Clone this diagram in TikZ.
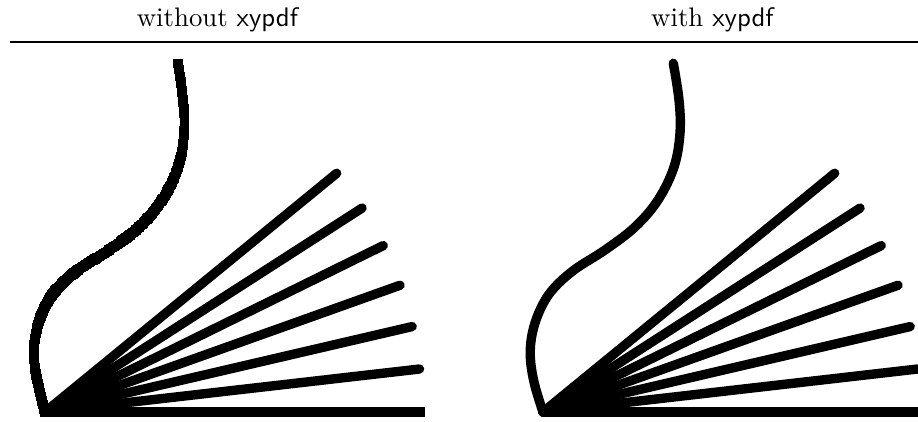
\documentclass[tikz,border=0pt]{standalone}
\begin{document}
\begin{tikzpicture}[x=0.3731pt,y=0.3731pt,
  fanline/.style={line width=3.5pt, line cap=round},
  groundline/.style={line width=3.5pt, line cap=butt},
  smoothcurve/.style={line width=3.5pt, line cap=round, line join=round},
  header/.style={inner sep=0pt, anchor=base}]
\useasboundingbox (0,0) rectangle (918,421);
\clip (0,0) rectangle (918,421);
% header
\node[header] (hl) at (218,395) {without \textsf{xypdf}};
\node[header] (hr) at (713,395) {with \textsf{xypdf}};
\coordinate (rulea) at (10,379);
\coordinate (ruleb) at (918,379);
\draw[line width=0.4pt] (rulea) -- (ruleb);
% left panel: without xypdf
\begin{scope}[shift={(45,9)}]
  \coordinate (lo) at (0,0);
  \foreach \k in {1,...,6} \draw[fanline] (lo) -- (6.55*\k:377) coordinate (le\k);
  \coordinate (lend) at (380,0);
  \draw[groundline] (lo) -- (lend);
  \foreach \cn/\cx/\cy in {0/0/0, 1/-7/28.7, 2/-11/55.3, 3/-9/78.7, 4/-1.5/102,
      5/11/122, 6/33/142, 7/64/162, 8/94/185, 9/117/212, 10/133/245,
      11/139/279, 12/138/312, 13/133/348.7}
    \coordinate (c\cn) at (\cx,\cy);
  \foreach \sa/\sb/\so/\si in {0/1/106.9/282.9, 1/2/102.9/272.3, 2/3/92.3/258.3,
      3/4/78.3/245.2, 4/5/65.2/229.6, 5/6/49.6/217.2, 6/7/37.2/215.2,
      7/8/35.2/223.3, 8/9/43.3/237, 9/10/57/251.8, 10/11/71.8/265.7,
      11/12/85.7/275.5, 12/13/95.5/278.8}
    \foreach \tp in {0,0.05,...,1.01} {
      \path (c\sa) to[out=\so,in=\si] coordinate[pos=\tp] (px) (c\sb);
      \fill ([shift={(-1.75pt,-1.75pt)}]px) rectangle ([shift={(1.75pt,1.75pt)}]px);
    }
\end{scope}
% right panel: with xypdf
\begin{scope}[shift={(543,9)}]
  \coordinate (ro) at (0,0);
  \foreach \k in {1,...,6} \draw[fanline] (ro) -- (6.55*\k:377) coordinate (re\k);
  \coordinate (rend) at (400,0);
  \draw[groundline] (ro) -- (rend);
  \draw[smoothcurve] plot[smooth, tension=0.6] coordinates
    {(0,0) (-8.7,28.7) (-12.7,55.3) (-10.7,78.7) (-3,102) (9.3,122) (31,142) (62,162)
     (92,185) (115,212) (131,245) (137,279) (136,312) (130.3,348.7)};
\end{scope}
\end{tikzpicture}
\end{document}
